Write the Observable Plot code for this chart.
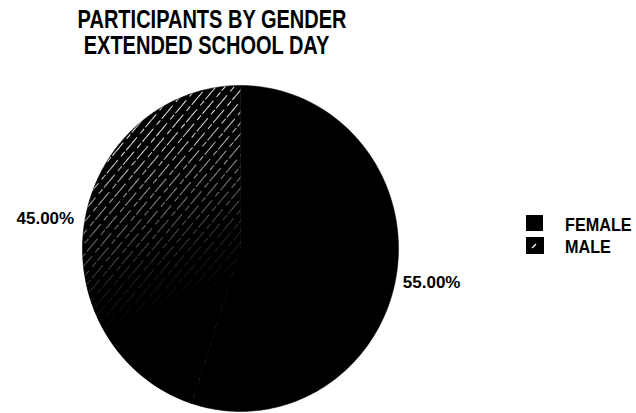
<!DOCTYPE html>
<html>
<head>
<meta charset="utf-8">
<script src="https://cdn.jsdelivr.net/npm/d3@7"></script>
<script src="https://cdn.jsdelivr.net/npm/@observablehq/plot@0.6"></script>
<style>
  html, body { margin: 0; padding: 0; background: #fff; }
  #wrap { position: relative; width: 636px; height: 413px; overflow: hidden; font-family: "Liberation Sans", Arial, sans-serif; }
  #chart { position: absolute; left: 0; top: 0; }
  .tline { position: absolute; width: 420px; text-align: center; font-weight: bold; font-size: 25px; line-height: 1; color: #000; white-space: nowrap; }
  .tline span { display: inline-block; transform: scaleX(0.8); transform-origin: center; }
  .leg { position: absolute; left: 526px; font-weight: bold; font-size: 18px; line-height: 1; color: #000; white-space: nowrap; }
  .leg .sw { position: absolute; left: 0; }
  .leg .lt { position: absolute; left: 39px; transform: scaleX(0.9); transform-origin: left center; }
</style>
</head>
<body>
<div id="wrap">
  <div id="chart"></div>
  <div class="tline" style="left:2px; top:7px;"><span id="t1"></span></div>
  <div class="tline" style="left:-3px; top:33px;"><span id="t2"></span></div>
  <div id="legend"></div>
</div>
<script>
// ---- data ----
const titleLines = ["PARTICIPANTS BY GENDER", "EXTENDED SCHOOL DAY"];
const categories = ["FEMALE", "MALE"];
const values = [55, 45];
const pctLabels = ["55.00%", "45.00%"];

document.getElementById("t1").textContent = titleLines[0];
document.getElementById("t2").textContent = titleLines[1];

// ---- pie geometry from values ----
const arcs = d3.pie().sort(null)(values);
const slicePoints = [];
arcs.forEach((a, i) => {
  const cat = categories[i];
  slicePoints.push({cat, x: 0, y: 0});
  const n = 180;
  for (let k = 0; k <= n; ++k) {
    const t = a.startAngle + (a.endAngle - a.startAngle) * k / n;
    slicePoints.push({cat, x: Math.sin(t), y: Math.cos(t)});
  }
});
const labelR = 1.04;
const labelData = arcs.map((a, i) => {
  const m = (a.startAngle + a.endAngle) / 2;
  return {cat: categories[i], label: pctLabels[i], x: Math.sin(m) * labelR, y: Math.cos(m) * labelR};
});

// pixel placement of the pie (center 240,248; radii 158 x 163)
const cx = 240, cy = 248, rx = 158, ry = 163, W = 636, H = 413;

const chart = Plot.plot({
  width: W,
  height: H,
  margin: 0,
  x: {domain: [-cx / rx, (W - cx) / rx], axis: null},
  y: {domain: [-(H - cy) / ry, cy / ry], axis: null},
  marks: [
    Plot.line(slicePoints.filter(d => d.cat === "FEMALE"), {x: "x", y: "y", fill: "#000", stroke: "#000", strokeWidth: 0.5, curve: "linear-closed"}),
    Plot.line(slicePoints.filter(d => d.cat === "MALE"), {x: "x", y: "y", fill: "url(#hatch)", stroke: "none", curve: "linear-closed"}),
    Plot.line(slicePoints.filter(d => d.cat === "MALE"), {x: "x", y: "y", fill: "url(#fade)", stroke: "#000", strokeWidth: 0.5, curve: "linear-closed"}),
    Plot.text(labelData.filter(d => d.x > 0), {x: "x", y: "y", text: "label", textAnchor: "start", dy: 8, fontSize: 17, fontWeight: "bold", fill: "#000", fontFamily: "Liberation Sans, Arial, sans-serif"}),
    Plot.text(labelData.filter(d => d.x < 0), {x: "x", y: "y", text: "label", textAnchor: "end", dx: -4, dy: -3, fontSize: 17, fontWeight: "bold", fill: "#000", fontFamily: "Liberation Sans, Arial, sans-serif"})
  ]
});

d3.select(chart).insert("defs", ":first-child").html(`
  <pattern id="hatch" patternUnits="userSpaceOnUse" width="14" height="30" patternTransform="rotate(40)">
    <rect width="14" height="30" fill="#000"></rect>
    <line x1="3.5" y1="0" x2="3.5" y2="30" stroke="#fff" stroke-opacity="0.9" stroke-width="1" stroke-dasharray="17 2 6 5"></line>
    <line x1="10.5" y1="0" x2="10.5" y2="30" stroke="#fff" stroke-opacity="0.9" stroke-width="1" stroke-dasharray="17 2 6 5" stroke-dashoffset="13"></line>
  </pattern>
  <linearGradient id="fade" x1="0.2" y1="0" x2="0.4" y2="1">
    <stop offset="0" stop-color="#000" stop-opacity="0"></stop>
    <stop offset="0.2" stop-color="#000" stop-opacity="0"></stop>
    <stop offset="0.42" stop-color="#000" stop-opacity="0.45"></stop>
    <stop offset="0.6" stop-color="#000" stop-opacity="0.85"></stop>
    <stop offset="0.75" stop-color="#000" stop-opacity="1"></stop>
    <stop offset="1" stop-color="#000" stop-opacity="1"></stop>
  </linearGradient>
`);
document.getElementById("chart").appendChild(chart);

// ---- legend ----
const legend = document.getElementById("legend");
categories.forEach((c, i) => {
  const row = document.createElement("div");
  row.className = "leg";
  row.style.top = (215 + i * 22) + "px";
  const sw = i === 0
    ? `<svg class="sw" width="17" height="16"><rect width="17" height="16" fill="#000"/></svg>`
    : `<svg class="sw" width="18" height="17"><rect width="18" height="17" fill="#000"/><line x1="6" y1="11" x2="10" y2="7" stroke="#fff" stroke-width="1.3"/></svg>`;
  row.innerHTML = sw + `<span class="lt" style="top:1px">${c}</span>`;
  legend.appendChild(row);
});
</script>
</body>
</html>
